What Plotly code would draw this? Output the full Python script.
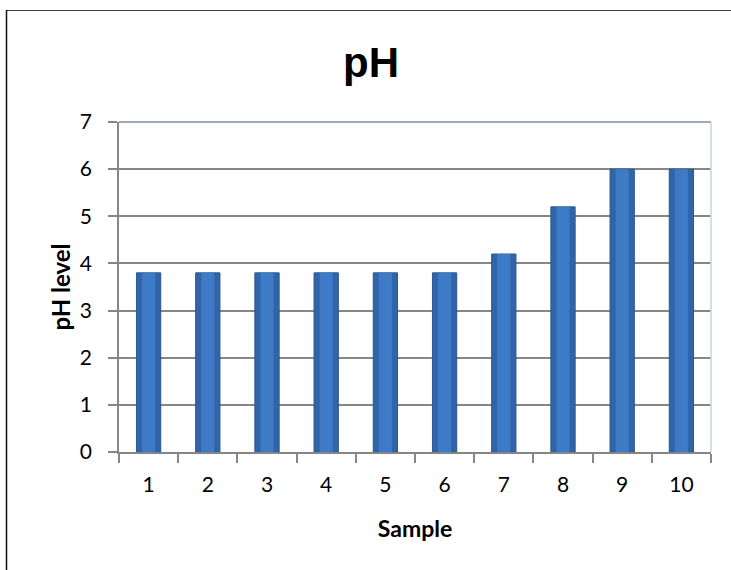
import plotly.graph_objects as go

samples = ["1", "2", "3", "4", "5", "6", "7", "8", "9", "10"]
ph_values = [3.8, 3.8, 3.8, 3.8, 3.8, 3.8, 4.2, 5.2, 6.0, 6.0]
y_ticks = [0, 1, 2, 3, 4, 5, 6, 7]

W, H = 731, 570
L, R, T, B = 119, 20, 122, 118
pw, ph = W - L - R, H - T - B

def px_x(p):
    return (p - L) / pw

def px_y(p):
    return (H - B - p) / ph

fig = go.Figure()
fig.add_trace(go.Bar(x=samples, y=ph_values, width=0.41,
                     marker=dict(color="#3165AA", line=dict(color="#2A568F", width=1)),
                     hoverinfo="skip"))
fig.add_trace(go.Bar(x=samples, y=ph_values, width=0.22,
                     marker=dict(color="#3E7BC6", line=dict(width=0)),
                     hoverinfo="skip"))

font_family = "Lato, 'Open Sans', sans-serif"

fig.update_layout(
    width=W, height=H,
    margin=dict(l=L, r=R, t=T, b=B),
    paper_bgcolor="white", plot_bgcolor="white",
    showlegend=False, barmode="overlay",
    title=dict(text="<b>pH</b>", x=371 / W, xanchor="center", y=1 - 62 / H, yanchor="middle",
               font=dict(family="'Liberation Sans', Arial, sans-serif", size=42, color="black")),
    xaxis=dict(type="category", tickson="boundaries", ticks="outside", ticklen=9,
               tickcolor="#868686", tickwidth=1.5, showline=True, linecolor="#868686", linewidth=1.5,
               showgrid=False, ticklabelstandoff=13,
               tickfont=dict(family=font_family, size=21, color="black"),
               title=dict(text="<b>Sample</b>", font=dict(family=font_family, size=23, color="black"),
                          standoff=26)),
    yaxis=dict(range=[0, 7], tickvals=y_ticks, ticks="outside", ticklen=9, tickcolor="#868686",
               tickwidth=1.5, showline=True, linecolor="#868686", linewidth=1.5,
               showgrid=True, gridcolor="#868686", gridwidth=1.5, zeroline=False,
               ticklabelstandoff=12,
               tickfont=dict(family=font_family, size=21, color="black"),
               title=dict(text="<b>pH level</b>", font=dict(family=font_family, size=24, color="black"),
                          standoff=2)),
    shapes=[
        dict(type="line", xref="paper", yref="paper", x0=0, x1=1, y0=1, y1=1,
             line=dict(color="#9AAAC4", width=2)),
        dict(type="line", xref="paper", yref="paper", x0=1, x1=1, y0=0, y1=1,
             line=dict(color="#C5D3EA", width=1.5)),
        dict(type="line", xref="paper", yref="paper", x0=px_x(6), x1=px_x(W + 5), y0=px_y(10.5), y1=px_y(10.5),
             line=dict(color="#404040", width=1.2)),
        dict(type="line", xref="paper", yref="paper", x0=px_x(6.5), x1=px_x(6.5), y0=px_y(10), y1=px_y(H + 5),
             line=dict(color="#111111", width=1.5)),
    ],
)

fig.write_html("out.html", config={"displayModeBar": False},
               post_script="document.body.style.margin='0px';document.body.style.overflow='hidden';")
